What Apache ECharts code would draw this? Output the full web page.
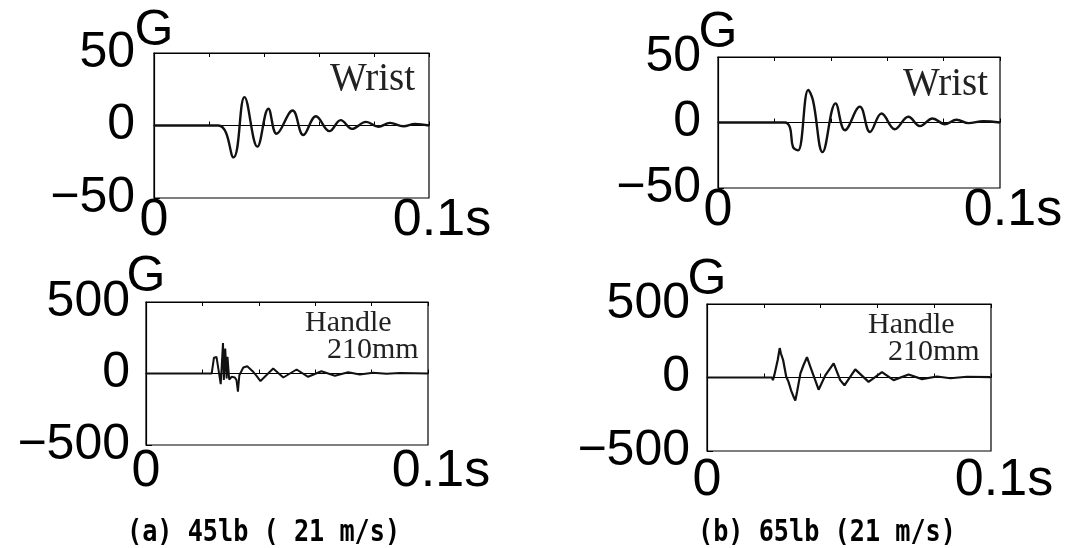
<!DOCTYPE html>
<html lang="en">
<head>
    <meta charset="UTF-8">
    <title>Wrist / Handle acceleration</title>
    <script src="https://cdn.jsdelivr.net/npm/echarts@6/dist/echarts.min.js"></script>
    <style>
        html, body { margin: 0; padding: 0; background: #fff; }
        #main { width: 1065px; height: 548px; }
    </style>
</head>
<body>
<div id="main"></div>
<script>
// time (s), acceleration (G)
var wristA = [[0,0],[0.0234,0],[0.0289,-22],[0.0329,19.6],[0.0376,-14.6],[0.0416,11.6],[0.0446,-5.7],
    [0.0504,10.3],[0.0543,-6.6],[0.0589,6.4],[0.0638,-3.9],[0.0679,3.7],[0.072,-2.3],[0.0771,2.5],
    [0.0816,-0.9],[0.0858,1.8],[0.0907,-0.5],[0.0949,1.1],[0.1,0]];
var wristB = [[0,0],[0.0237,0],[0.0255,-3.8],[0.0266,-18.7],[0.0284,-21.3],[0.032,24.9],[0.0337,16.7],
    [0.0371,-22.6],[0.0417,14.6],[0.045,-5.9],[0.0503,12.1],[0.0539,-7.2],[0.058,6.9],[0.0627,-5.1],
    [0.0675,4.4],[0.0716,-2.8],[0.0761,3.1],[0.0805,-1.3],[0.0846,2.1],[0.0888,-0.5],[0.0941,1],[0.1,0]];
var handleA = [[0,0],[0.0233,0],[0.0241,111],[0.025,116],[0.0257,104],[0.0265,-74],[0.0273,213],
    [0.0276,-46],[0.0281,174],[0.0286,-35],[0.0289,116],[0.0295,-42],[0.0304,-23],[0.0315,-28],
    [0.0321,-46],[0.0326,-127],[0.0331,-12],[0.0345,42],[0.0359,51],[0.0366,58],[0.038,12],
    [0.039,-12],[0.0406,-53],[0.0451,35],[0.0487,-28],[0.0534,28],[0.0575,-23],[0.0622,16],
    [0.067,-16],[0.0717,9],[0.0758,-7],[0.0805,5],[0.0853,-2],[0.09,4],[0.1,0]];
var handleB = [[0,0],[0.0229,0],[0.0232,-18],[0.0237,16],[0.0249,119],[0.0256,200],[0.026,165],
    [0.0268,119],[0.0279,5],[0.0287,-30],[0.0296,-87],[0.0303,-122],[0.0311,-156],[0.0317,-99],
    [0.0329,28],[0.034,85],[0.0352,138],[0.0364,73],[0.0381,-18],[0.0393,-83],[0.0417,16],
    [0.0446,96],[0.0469,-18],[0.0484,-53],[0.0522,55],[0.0569,-30],[0.0616,37],[0.0657,-18],
    [0.071,21],[0.0757,-11],[0.081,7],[0.0857,-5],[0.0915,5],[0.0998,2]];

var xRange = [0, 0.1];
var xStep = 0.02;
var wristRange = [-50, 50];
var handleRange = [-500, 500];
var panelNotes = ['Wrist', 'Wrist', 'Handle', 'Handle'];
var captions = ['(a) 45lb ( 21 m/s)', '(b) 65lb (21 m/s)'];

var myChart = echarts.init(document.getElementById('main'));

var panels = [
    {grid: {left: 154, top: 53, width: 275, height: 145}, data: wristA, range: wristRange, smooth: 0.4, lw: 2.4, xm: -3, ym: 19, ng: -3},
    {grid: {left: 718, top: 57, width: 282, height: 131}, data: wristB, range: wristRange, smooth: 0.4, lw: 2.4, xm: -3, ym: 17, ng: -1},
    {grid: {left: 146, top: 302, width: 282, height: 143}, data: handleA, range: handleRange, smooth: false, lw: 2, xm: 1, ym: 16, ng: 0},
    {grid: {left: 707, top: 304, width: 284, height: 147}, data: handleB, range: handleRange, smooth: false, lw: 2.2, xm: 4, ym: 17, ng: -1}
];

var grids = [], xAxes = [], yAxes = [], series = [];
var black = '#000';

panels.forEach(function (p, i) {
    var g = p.grid;
    grids.push({left: g.left, top: g.top, width: g.width, height: g.height,
        outerBoundsMode: 'none', containLabel: false,
        show: true, borderColor: black, borderWidth: 1.2, backgroundColor: 'transparent'});
    // bottom axis with labels
    xAxes.push({
        type: 'value', gridIndex: i, min: xRange[0], max: xRange[1], interval: xStep,
        axisLine: {show: true, lineStyle: {color: black, width: 1.2}},
        axisTick: {show: true, inside: true, length: 4, lineStyle: {color: black}},
        splitLine: {show: false},
        axisLabel: {
            show: true, margin: p.xm, color: black, fontSize: 52, fontFamily: 'Liberation Sans',
            showMinLabel: true, showMaxLabel: true,
            formatter: function (v) {
                if (Math.abs(v) < 1e-9) return '0';
                if (Math.abs(v - 0.1) < 1e-9) return '{p|}0.1s';
                return '';
            },
            rich: {p: {width: 26, fontSize: 52}}
        }
    });
    // top axis, ticks only
    xAxes.push({
        type: 'value', gridIndex: i, position: 'top', min: xRange[0], max: xRange[1], interval: xStep,
        axisLine: {show: true, lineStyle: {color: black, width: 1.2}},
        axisTick: {show: true, inside: true, length: 4, lineStyle: {color: black}},
        splitLine: {show: false},
        axisLabel: {show: false}
    });
    var step = (p.range[1] - p.range[0]) / 4;
    yAxes.push({
        type: 'value', gridIndex: i, min: p.range[0], max: p.range[1], interval: step,
        name: 'G', nameLocation: 'end', nameGap: p.ng, nameMoveOverlap: false,
        nameTextStyle: {color: black, fontSize: 50, fontFamily: 'Liberation Sans'},
        axisLine: {show: true, lineStyle: {color: black, width: 1.2}},
        axisTick: {show: true, inside: true, length: 6, lineStyle: {color: black}},
        splitLine: {show: false},
        axisLabel: {
            show: true, interval: 1, margin: p.ym, color: black, fontSize: 50, fontFamily: 'Liberation Sans',
            showMinLabel: true, showMaxLabel: true,
            formatter: function (v) { return String(v).replace('-', '\u2212'); }
        }
    });
    series.push({
        type: 'line', xAxisIndex: i * 2, yAxisIndex: i, data: p.data,
        showSymbol: false, smooth: p.smooth,
        lineStyle: {color: '#111', width: p.lw}
    });
});

function note(text, x, y, size) {
    return {type: 'text', x: x, y: y, silent: true,
        style: {text: text, font: size + 'px "Liberation Serif"', fill: '#222', textAlign: 'left', textVerticalAlign: 'top'}};
}

function caption(text, x, y) {
    return {type: 'text', x: x, y: y, scaleX: 0.84, silent: true,
        style: {text: text, font: 'bold 30px "DejaVu Sans Mono"', fill: black, textAlign: 'left', textVerticalAlign: 'middle'}};
}

var option = {
    animation: false,
    backgroundColor: '#fff',
    grid: grids,
    xAxis: xAxes,
    yAxis: yAxes,
    series: series,
    graphic: [
        note(panelNotes[0], 330, 60, 39),
        note(panelNotes[1], 903, 65, 39),
        note(panelNotes[2], 305, 308, 30),
        note('210mm', 327, 335, 30),
        note(panelNotes[3], 868, 310, 30),
        note('210mm', 888, 337, 30),
        caption(captions[0], 127, 533),
        caption(captions[1], 698, 533)
    ]
};

myChart.setOption(option);
</script>
</body>
</html>
